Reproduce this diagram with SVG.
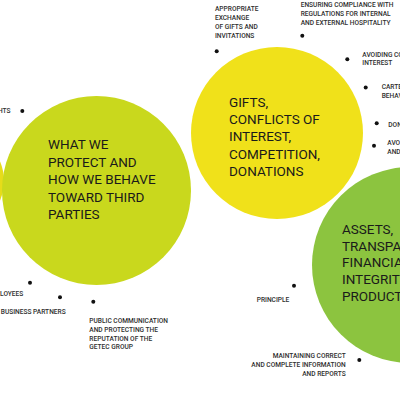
<svg xmlns="http://www.w3.org/2000/svg" width="400" height="400" viewBox="0 0 400 400">
<style>
.big{font-family:Roboto,"DejaVu Sans",sans-serif;font-size:13.5px;fill:#1a1a1a}
.sm{font-family:Roboto,"DejaVu Sans",sans-serif;font-size:6.6px;font-weight:500;fill:#2e2e2e}
.r{text-anchor:end}
.dot{fill:#111}
</style>
<rect width="400" height="400" fill="#fff"/>
<g id="node-offscreen-yellow"><circle cx="-46" cy="181" r="50" fill="#e6dc1a"/></g>
<g id="node-third-parties">
<circle cx="96.5" cy="190.5" r="94.5" fill="#c9d81d"/>
<text class="big"><tspan x="48" y="149">WHAT WE</tspan><tspan x="48" y="166.6">PROTECT AND</tspan><tspan x="48" y="184.2">HOW WE BEHAVE</tspan><tspan x="48" y="201.8">TOWARD THIRD</tspan><tspan x="48" y="219.4">PARTIES</tspan></text>
</g>
<g id="node-gifts">
<circle cx="277" cy="133" r="86" fill="#f0e11a"/>
<text class="big"><tspan x="229" y="106.7">GIFTS,</tspan><tspan x="229" y="124">CONFLICTS OF</tspan><tspan x="229" y="141.3">INTEREST,</tspan><tspan x="229" y="158.7">COMPETITION,</tspan><tspan x="229" y="176">DONATIONS</tspan></text>
</g>
<g id="node-assets">
<circle cx="410" cy="265" r="98" fill="#8cc43f"/>
<text class="big"><tspan x="342" y="234">ASSETS,</tspan><tspan x="342" y="250.7">TRANSPARENCY,</tspan><tspan x="342" y="267.3">FINANCIAL</tspan><tspan x="342" y="284">INTEGRITY,</tspan><tspan x="342" y="300.7">PRODUCTS</tspan></text>
</g>
<g id="connectors">
<circle class="dot" cx="216.7" cy="51.3" r="2"/>
<circle class="dot" cx="302.3" cy="35.7" r="2"/>
<circle class="dot" cx="347.3" cy="59.2" r="2"/>
<circle class="dot" cx="365.7" cy="87.5" r="2"/>
<circle class="dot" cx="376.7" cy="123.3" r="2"/>
<circle class="dot" cx="374" cy="145.7" r="2"/>
<circle class="dot" cx="22.3" cy="111" r="2"/>
<circle class="dot" cx="30" cy="282.7" r="2"/>
<circle class="dot" cx="60" cy="297.3" r="2"/>
<circle class="dot" cx="93.3" cy="301.7" r="2"/>
<circle class="dot" cx="294" cy="285.7" r="2"/>
<circle class="dot" cx="359.3" cy="360" r="2"/>
</g>
<g id="labels">
<text class="sm"><tspan x="215" y="11">APPROPRIATE</tspan><tspan x="215" y="20">EXCHANGE</tspan><tspan x="215" y="29">OF GIFTS AND</tspan><tspan x="215" y="37.7">INVITATIONS</tspan></text>
<text class="sm"><tspan x="300.7" y="7.3">ENSURING COMPLIANCE WITH</tspan><tspan x="300.7" y="16.3">REGULATIONS FOR INTERNAL</tspan><tspan x="300.7" y="25.3">AND EXTERNAL HOSPITALITY</tspan></text>
<text class="sm"><tspan x="362.3" y="56.7">AVOIDING CONFLICTS OF</tspan><tspan x="362.3" y="65.3">INTEREST</tspan></text>
<text class="sm"><tspan x="381.7" y="88.7">CARTEL</tspan><tspan x="381.7" y="97.7">BEHAVIOUR</tspan></text>
<text class="sm" x="388.3" y="126.7">DONATIONS</text>
<text class="sm"><tspan x="387.3" y="145">AVOIDING</tspan><tspan x="387.3" y="153.7">AND</tspan></text>
<text class="sm r" x="10.5" y="113.3">HUMAN RIGHTS</text>
<text class="sm r" x="23.3" y="295.7">EMPLOYEES</text>
<text class="sm r" x="65.7" y="314">BUSINESS PARTNERS</text>
<text class="sm"><tspan x="89.3" y="323.3">PUBLIC COMMUNICATION</tspan><tspan x="89.3" y="332">AND PROTECTING THE</tspan><tspan x="89.3" y="340.7">REPUTATION OF THE</tspan><tspan x="89.3" y="349.3">GETEC GROUP</tspan></text>
<text class="sm r" x="289.3" y="301.7">PRINCIPLE</text>
<text class="sm r"><tspan x="345.7" y="358.3">MAINTAINING CORRECT</tspan><tspan x="345.7" y="367.3">AND COMPLETE INFORMATION</tspan><tspan x="345.7" y="376">AND REPORTS</tspan></text>
</g>
</svg>
